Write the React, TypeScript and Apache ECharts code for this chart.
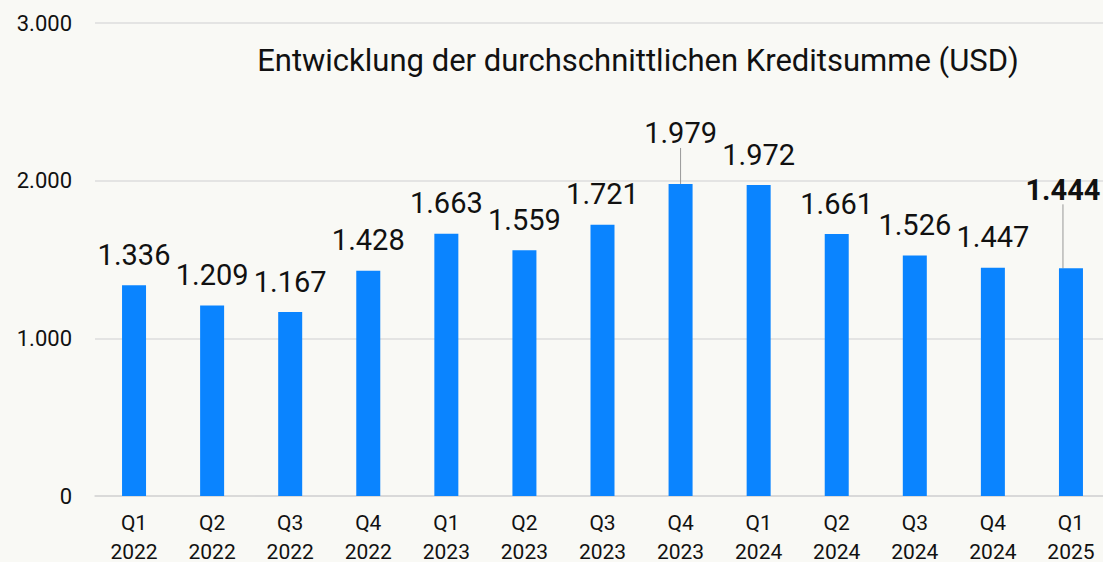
import React, { useEffect, useRef } from "react";
import * as echarts from "echarts";

const categories = ["Q1\n2022", "Q2\n2022", "Q3\n2022", "Q4\n2022", "Q1\n2023", "Q2\n2023", "Q3\n2023", "Q4\n2023", "Q1\n2024", "Q2\n2024", "Q3\n2024", "Q4\n2024", "Q1\n2025"];
const values = [1336, 1209, 1167, 1428, 1663, 1559, 1721, 1979, 1972, 1661, 1526, 1447, 1444];
const yTicks = [0, 1000, 2000, 3000];
const titleText = "Entwicklung der durchschnittlichen Kreditsumme (USD)";

const FONT = "Roboto, sans-serif";
const fmt = (v: number) => {
  const s = Math.round(v).toString();
  return s.replace(/\B(?=(\d{3})+(?!\d))/g, ".");
};

export default function App() {
  const ref = useRef<HTMLDivElement>(null);
  useEffect(() => {
    if (!ref.current) return;
    const chart = echarts.init(ref.current, undefined, { renderer: "svg" });
    const lastIdx = values.length - 1;
    const data = values.map((v, i) => {
      const item: any = { value: v };
      if (i === 7) {
        item.labelLine = { show: true, lineStyle: { color: "#999", width: 1 } };
      }
      if (i === lastIdx) {
        item.label = { fontWeight: "bold" };
        item.labelLine = { show: true, lineStyle: { color: "#999", width: 1 } };
      }
      return item;
    });
    chart.setOption({
      animation: false,
      backgroundColor: "#f9f9f5",
      title: {
        text: titleText,
        left: 633,
        textAlign: "center",
        top: 40,
        textStyle: { fontFamily: FONT, fontSize: 31, fontWeight: "normal", color: "#111" },
      },
      grid: { left: 95, right: -7, top: 23, bottom: 66, outerBoundsMode: "none", containLabel: false },
      xAxis: {
        type: "category",
        data: categories,
        axisTick: { show: false },
        axisLine: { lineStyle: { color: "#d6d6d6", width: 1.5 } },
        axisLabel: { fontFamily: FONT, fontSize: 21, color: "#111", lineHeight: 29, margin: 12 },
      },
      yAxis: {
        type: "value",
        min: yTicks[0],
        max: yTicks[yTicks.length - 1],
        interval: 1000,
        axisLine: { show: false },
        axisTick: { show: false },
        splitLine: { lineStyle: { color: "#dcdcdc", width: 1.5 } },
        axisLabel: { fontFamily: FONT, fontSize: 22, color: "#111", margin: 23, formatter: (v: number) => fmt(v) },
      },
      series: [
        {
          type: "bar",
          data,
          barWidth: 24,
          itemStyle: { color: "#0a84ff" },
          label: {
            show: true,
            position: "top",
            distance: 16,
            fontFamily: FONT,
            fontSize: 29,
            color: "#111",
            formatter: (p: any) => fmt(p.value),
          },
          labelLayout: (params: any) => {
            if (params.dataIndex === 7) return { dy: -20 };
            if (params.dataIndex === lastIdx) return { dx: -8, dy: -48 };
            return {};
          },
        },
      ],
    });
    return () => chart.dispose();
  }, []);
  return <div ref={ref} style={{ width: 1103, height: 562, position: "absolute", left: 0, top: 0 }} />;
}
